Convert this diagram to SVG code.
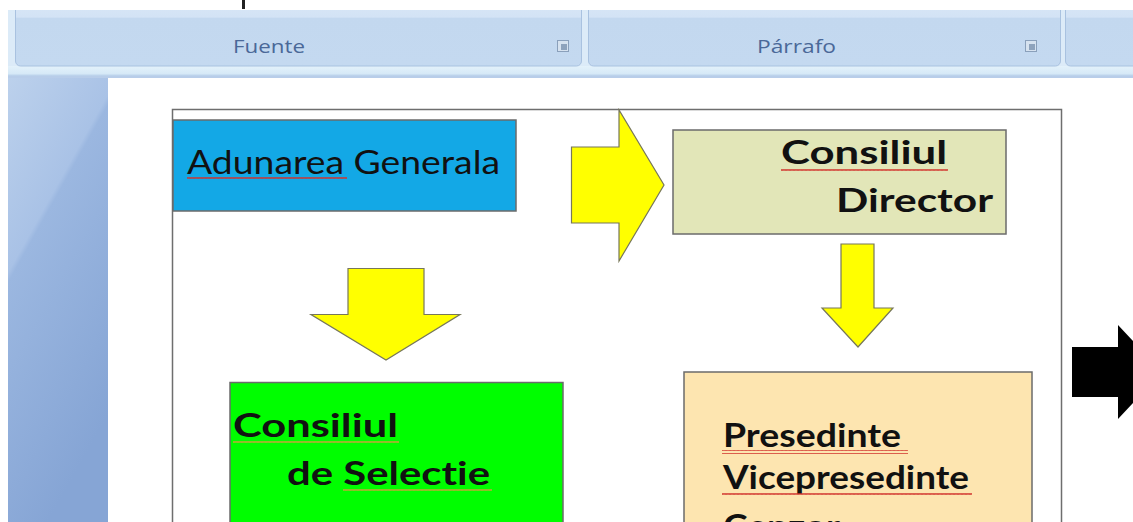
<svg xmlns="http://www.w3.org/2000/svg" width="1133" height="522" viewBox="0 0 1133 522">
  <defs>
    <style>
      .grp { fill: url(#grpGrad); stroke: #a9c2e0; stroke-width: 1; }
      .rlabel { font-family: "Open Sans", "Noto Sans", sans-serif; font-size: 18px; fill: #4a6898; }
      .box { stroke: #6b6b6b; stroke-width: 1.5; }
      .arrow { fill: #ffff00; stroke: #77775a; stroke-width: 1.2; stroke-linejoin: miter; }
      .t { font-family: "Lato", "Open Sans", sans-serif; font-size: 32px; fill: #111111; font-variant-ligatures: none; }
      .b { font-weight: bold; }
      .wavy { fill: url(#wave); }
    </style>
    <linearGradient id="grpGrad" x1="0" y1="0" x2="0" y2="1">
      <stop offset="0" stop-color="#d9e7f6"/>
      <stop offset="0.28" stop-color="#d3e3f5"/>
      <stop offset="0.3" stop-color="#c3d8ef"/>
      <stop offset="1" stop-color="#c4d9f0"/>
    </linearGradient>
    <linearGradient id="sideGrad" x1="0" y1="0" x2="0.4" y2="1">
      <stop offset="0" stop-color="#bcd1ec"/>
      <stop offset="0.38" stop-color="#a9c2e6"/>
      <stop offset="0.4" stop-color="#9bb7e0"/>
      <stop offset="1" stop-color="#86a5d5"/>
    </linearGradient>
    <linearGradient id="underGrad" x1="0" y1="0" x2="0" y2="1">
      <stop offset="0" stop-color="#e4f2fb"/>
      <stop offset="0.7" stop-color="#d6e9f7"/>
      <stop offset="1" stop-color="#a7c0e2"/>
    </linearGradient>
    <pattern id="wave" x="0" y="0" width="4" height="4" patternUnits="userSpaceOnUse">
      <path d="M0,3 L1,1 L2,3 L3,1 L4,3" fill="none" stroke="#d0302a" stroke-width="0.9"/>
    </pattern>
    <pattern id="waveY" x="0" y="0" width="4" height="4" patternUnits="userSpaceOnUse">
      <path d="M0,3 L1,1 L2,3 L3,1 L4,3" fill="none" stroke="#c9a23a" stroke-width="0.9"/>
    </pattern>
  </defs>

  <!-- background / window chrome -->
  <rect x="0" y="0" width="1133" height="522" fill="#ffffff"/>
  <rect x="8" y="10" width="1125" height="68" fill="#dcebf8"/>
  <rect x="8" y="66" width="1125" height="11" fill="url(#underGrad)"/>
  <rect x="8" y="76" width="100" height="446" fill="url(#sideGrad)"/>
  <rect x="8" y="76" width="1125" height="2" fill="#b8cde9"/>
  <rect x="108" y="78" width="1025" height="444" fill="#ffffff"/>

  <!-- ribbon groups -->
  <g id="ribbon">
    <rect class="grp" x="15.5" y="-2" width="566" height="68" rx="5"/>
    <rect class="grp" x="588.5" y="-2" width="472" height="68" rx="5"/>
    <rect class="grp" x="1065.5" y="-2" width="80" height="68" rx="5"/>
    <rect x="0" y="0" width="1133" height="10" fill="#ffffff"/>
    <rect x="242" y="0" width="3" height="9" fill="#222222"/>
    <text class="rlabel" x="233" y="53" textLength="72" lengthAdjust="spacingAndGlyphs">Fuente</text>
    <text class="rlabel" x="757" y="53" textLength="79" lengthAdjust="spacingAndGlyphs">Párrafo</text>
    <g fill="none" stroke="#8aa0bb" stroke-width="1">
      <rect x="557.5" y="40.5" width="11" height="11" fill="#d6e2ef"/>
      <rect x="1025.5" y="40.5" width="11" height="11" fill="#d6e2ef"/>
    </g>
    <rect x="561" y="44" width="6" height="6" fill="#8ea3bc"/>
    <rect x="1029" y="44" width="6" height="6" fill="#8ea3bc"/>
  </g>

  <!-- frame -->
  <rect id="frame" x="172.5" y="109.5" width="889" height="430" fill="#ffffff" stroke="#6e6e6e" stroke-width="1.5"/>

  <!-- connectors -->
  <g id="connectors">
    <polygon class="arrow" points="571.5,147 619,147 619,110 664,185 619,261 619,223 571.5,223"/>
    <polygon class="arrow" points="348,268.5 424,268.5 424,314.5 460,314.5 386,360 311,314.5 348,314.5"/>
    <polygon class="arrow" points="841,244 874,244 874,308 893,308 858,347 822,308 841,308"/>
    <polygon points="1072,347 1118,347 1118,325 1162,372 1118,419 1118,397 1072,397" fill="#000000"/>
  </g>

  <g id="adunarea">
    <rect class="box" x="173" y="120" width="343" height="91" fill="#13a8e6"/>
    <text class="t" x="187" y="174" textLength="313" lengthAdjust="spacingAndGlyphs" fill="#0e1e38">Adunarea Generala</text>
    <rect class="wavy" x="187" y="176" width="160" height="4"/>
  </g>

  <g id="consiliul-director">
    <rect class="box" x="673" y="130" width="333" height="104" fill="#e2e6b8"/>
    <text class="t b" x="781" y="164" textLength="166" lengthAdjust="spacingAndGlyphs">Consiliul</text>
    <text class="t b" x="836" y="212" textLength="157" lengthAdjust="spacingAndGlyphs">Director</text>
    <rect class="wavy" x="781" y="167" width="167" height="4"/>
  </g>

  <g id="consiliul-selectie">
    <rect class="box" x="230" y="382.5" width="333" height="160" fill="#00fe00"/>
    <text class="t b" x="233" y="437" textLength="165" lengthAdjust="spacingAndGlyphs">Consiliul</text>
    <text class="t b" x="287" y="485" textLength="203" lengthAdjust="spacingAndGlyphs">de Selectie</text>
    <rect x="233" y="440" width="166" height="4" fill="url(#waveY)"/>
    <rect x="343" y="488" width="149" height="4" fill="url(#waveY)"/>
  </g>

  <g id="presedinte">
    <rect class="box" x="684" y="372" width="348" height="170" fill="#fde5b0"/>
    <text class="t b" x="723" y="447" textLength="178" lengthAdjust="spacingAndGlyphs">Presedinte</text>
    <text class="t b" x="723" y="489" textLength="246" lengthAdjust="spacingAndGlyphs">Vicepresedinte</text>
    <text class="t b" x="723" y="538" textLength="117" lengthAdjust="spacingAndGlyphs">Cenzor</text>
    <rect class="wavy" x="722" y="450" width="186" height="4"/>
    <rect class="wavy" x="722" y="492" width="250" height="4"/>
  </g>
</svg>
